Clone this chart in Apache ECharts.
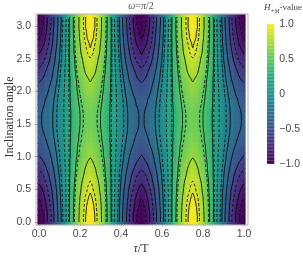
<!DOCTYPE html>
<html><head><meta charset="utf-8">
<script src="https://cdn.jsdelivr.net/npm/echarts@6/dist/echarts.min.js"></script>
<style>html,body{margin:0;padding:0;background:#fff}#c{width:303px;height:261px}</style>
</head><body><div id="c"></div>
<script>
// ---- data ----
const tauMajorTicks = [0, 0.2, 0.4, 0.6, 0.8, 1.0];
const inclMajorTicks = [0, 0.5, 1.0, 1.5, 2.0, 2.5, 3.0];
const colorbarTicks = [-1, -0.5, 0, 0.5, 1];
const tauStep = 0.0125;             // tau sample spacing (0 .. 1)
const inclStep = Math.PI / 40;      // inclination sample spacing (0 .. pi)
// oscillation profile along tau/T (value at inclination 0)
const tauProfile = [
  -1.00,-0.96,-0.91,-0.83,-0.75,-0.65,-0.53,-0.41,-0.28,-0.14,0.00,0.14,0.28,0.41,0.53,0.65,0.75,0.83,0.91,0.96,1.00,
  0.96,0.91,0.83,0.75,0.65,0.53,0.41,0.28,0.14,0.00,-0.14,-0.28,-0.41,-0.53,-0.65,-0.75,-0.83,-0.91,-0.96,-1.00,
  -0.96,-0.91,-0.83,-0.75,-0.65,-0.53,-0.41,-0.28,-0.14,0.00,0.14,0.28,0.41,0.53,0.65,0.75,0.83,0.91,0.96,1.00,
  0.96,0.91,0.83,0.75,0.65,0.53,0.41,0.28,0.14,0.00,-0.14,-0.28,-0.41,-0.53,-0.65,-0.75,-0.83,-0.91,-0.96,-1.00
];
// oscillation amplitude along inclination angle
const inclAmplitude = [
  1.00,1.00,0.99,0.97,0.95,0.92,0.89,0.86,0.82,0.78,0.74,0.70,0.66,0.62,0.59,0.56,0.53,0.51,0.49,0.48,0.48,
  0.48,0.49,0.51,0.53,0.56,0.59,0.62,0.66,0.70,0.74,0.78,0.82,0.86,0.89,0.92,0.95,0.97,0.99,1.00,1.00
];
// constant (memory-like) shift along inclination angle
const inclOffset = [
  0.00,0.00,0.00,0.01,0.01,0.02,0.02,0.03,0.04,0.04,0.05,0.06,0.07,0.07,0.08,0.09,0.09,0.10,0.10,0.10,0.10,
  0.10,0.10,0.10,0.10,0.09,0.09,0.08,0.07,0.07,0.06,0.05,0.04,0.04,0.03,0.02,0.02,0.01,0.01,0.00,0.00
];
const solidLevels = [-0.81, -0.55, -0.36, -0.19, 0.26, 0.46, 0.71, 0.92];
const dashedLevels = [-0.92, -0.68, -0.10, 0.08, 0.22, 0.51, 0.86];
const viridis = ['#440154','#472c7a','#3b518b','#2c718e','#21908d','#27ad81','#5cc863','#aadc32','#fde725'];

// ---- build grid ----
const tauVals = tauProfile.map((_, i) => i * tauStep);
const inclVals = inclAmplitude.map((_, j) => j * inclStep);
const Z = inclVals.map((_, j) => tauProfile.map(g => inclOffset[j] + inclAmplitude[j] * g));
const cells = [];
inclVals.forEach((y, j) => tauVals.forEach((x, i) => cells.push([x, y, Z[j][i]])));

const tauMinorTicks = []; for (let k = 0; k <= 20; k++) tauMinorTicks.push(+(k * 0.05).toFixed(2));
const inclMinorTicks = []; for (let k = 0; k <= 31; k++) inclMinorTicks.push(+(k * 0.1).toFixed(1));
const barSamples = []; for (let k = 0; k <= 100; k++) { const v = -1 + k * 0.02; barSamples.push([0.5, v, v]); }

function contourLines(xs, ys, Z, level) {
  const nx = xs.length, ny = ys.length, pts = {}, adj = {};
  function ep(key, xa, ya, za, xb, yb, zb) {
    if (!(key in pts)) { const t = (level - za) / (zb - za); pts[key] = [xa + t * (xb - xa), ya + t * (yb - ya)]; }
    return key;
  }
  function link(a, b) { (adj[a] = adj[a] || []).push(b); (adj[b] = adj[b] || []).push(a); }
  const table = {1:[['l','b']],2:[['b','r']],3:[['l','r']],4:[['r','t']],6:[['b','t']],7:[['l','t']],8:[['t','l']],9:[['t','b']],11:[['t','r']],12:[['r','l']],13:[['r','b']],14:[['b','l']]};
  for (let j = 0; j < ny - 1; j++) for (let i = 0; i < nx - 1; i++) {
    const z00 = Z[j][i], z10 = Z[j][i+1], z11 = Z[j+1][i+1], z01 = Z[j+1][i];
    const c = (z00 >= level ? 1 : 0) | (z10 >= level ? 2 : 0) | (z11 >= level ? 4 : 0) | (z01 >= level ? 8 : 0);
    if (c === 0 || c === 15) continue;
    const E = {
      b: () => ep('h' + i + '_' + j, xs[i], ys[j], z00, xs[i+1], ys[j], z10),
      r: () => ep('v' + (i+1) + '_' + j, xs[i+1], ys[j], z10, xs[i+1], ys[j+1], z11),
      t: () => ep('h' + i + '_' + (j+1), xs[i], ys[j+1], z01, xs[i+1], ys[j+1], z11),
      l: () => ep('v' + i + '_' + j, xs[i], ys[j], z00, xs[i], ys[j+1], z01)
    };
    let segs;
    if (c === 5 || c === 10) {
      const center = (z00 + z10 + z11 + z01) / 4 >= level;
      if (c === 5) segs = center ? [['l','t'],['b','r']] : [['l','b'],['r','t']];
      else segs = center ? [['b','l'],['t','r']] : [['b','r'],['t','l']];
    } else segs = table[c];
    for (const [a, b] of segs) link(E[a](), E[b]());
  }
  const used = new Set(), lines = [], keys = Object.keys(adj);
  function walk(start) {
    const line = [pts[start]]; used.add(start);
    let cur = start;
    while (true) {
      const nb = adj[cur].filter(k => !used.has(k));
      if (!nb.length) { if (line.length > 2 && adj[cur].includes(start)) line.push(pts[start]); break; }
      cur = nb[0]; used.add(cur); line.push(pts[cur]);
    }
    return line;
  }
  keys.forEach(k => { if (adj[k].length === 1 && !used.has(k)) lines.push(walk(k)); });
  keys.forEach(k => { if (!used.has(k)) lines.push(walk(k)); });
  return lines;
}

const contourSeries = [];
function addContours(levels, dashed) {
  levels.forEach(lv => contourLines(tauVals, inclVals, Z, lv).forEach(line => {
    contourSeries.push({
      type: 'line', xAxisIndex: 0, yAxisIndex: 0, data: line, showSymbol: false, symbol: 'none',
      silent: true, clip: true, z: 5, animation: false, smooth: 0.2,
      lineStyle: { color: 'rgba(0,0,0,0.85)', width: 1, type: dashed ? [3, 2] : 'solid' }
    });
  }));
}
addContours(solidLevels, false);
addContours(dashedLevels, true);

const tickColor = '#8c8c8c';
const labelStyle = { fontSize: 10.5, color: '#4a4a4a', fontFamily: 'Liberation Sans' };
function tickAxis(o) {
  return Object.assign({
    type: 'value', gridIndex: 0, axisLine: { show: false }, splitLine: { show: false },
    axisLabel: { show: false }
  }, o);
}
const fmt1 = v => v.toFixed(1);

const option = {
  animation: false,
  grid: [
    { left: 39, top: 17, width: 205, height: 205 },
    { left: 267, top: 24, width: 10, height: 140 },
    { left: 36, top: 14, width: 212, height: 211, show: true, borderColor: '#b0b0b0', borderWidth: 1, backgroundColor: 'transparent', z: 10 }
  ],
  xAxis: [
    tickAxis({ min: 0, max: 1, position: 'bottom', offset: 3,
      axisTick: { inside: true, length: 4, lineStyle: { color: tickColor }, customValues: tauMajorTicks },
      axisLabel: Object.assign({ show: true, margin: 4, formatter: fmt1, customValues: tauMajorTicks }, labelStyle) }),
    tickAxis({ min: 0, max: 1, position: 'bottom', offset: 3,
      axisTick: { inside: true, length: 2, lineStyle: { color: tickColor }, customValues: tauMinorTicks } }),
    tickAxis({ min: 0, max: 1, position: 'top', offset: 3,
      axisTick: { inside: true, length: 4, lineStyle: { color: tickColor }, customValues: tauMajorTicks } }),
    tickAxis({ min: 0, max: 1, position: 'top', offset: 3,
      axisTick: { inside: true, length: 2, lineStyle: { color: tickColor }, customValues: tauMinorTicks } }),
    { type: 'value', gridIndex: 1, min: 0, max: 1, show: false },
    { type: 'value', gridIndex: 2, min: 0, max: 1, show: false }
  ],
  yAxis: [
    tickAxis({ min: 0, max: Math.PI, position: 'left', offset: 3,
      axisTick: { inside: true, length: 4, lineStyle: { color: tickColor }, customValues: inclMajorTicks },
      axisLabel: Object.assign({ show: true, margin: 5, formatter: fmt1, customValues: inclMajorTicks }, labelStyle) }),
    tickAxis({ min: 0, max: Math.PI, position: 'left', offset: 3,
      axisTick: { inside: true, length: 2, lineStyle: { color: tickColor }, customValues: inclMinorTicks } }),
    tickAxis({ min: 0, max: Math.PI, position: 'right', offset: 4,
      axisTick: { inside: true, length: 4, lineStyle: { color: tickColor }, customValues: inclMajorTicks } }),
    tickAxis({ min: 0, max: Math.PI, position: 'right', offset: 4,
      axisTick: { inside: true, length: 2, lineStyle: { color: tickColor }, customValues: inclMinorTicks } }),
    { type: 'value', gridIndex: 1, min: -1, max: 1, position: 'right',
      axisLine: { show: false }, axisTick: { show: false }, splitLine: { show: false },
      axisLabel: Object.assign({ margin: 5, customValues: colorbarTicks,
        formatter: v => v === 0 ? '0' : (v < 0 ? '\u2212' + Math.abs(v).toFixed(1) : v.toFixed(1)) }, labelStyle) },
    { type: 'value', gridIndex: 2, min: 0, max: 1, show: false }
  ],
  visualMap: {
    type: 'continuous', show: false, min: -1, max: 1, dimension: 2, seriesIndex: [0, 1],
    inRange: { color: viridis }
  },
  series: [
    { type: 'custom', xAxisIndex: 0, yAxisIndex: 0, data: cells, clip: true, silent: true, z: 1,
      renderItem: (params, api) => {
        const x = api.value(0), y = api.value(1);
        const p0 = api.coord([x - tauStep / 2, y + inclStep / 2]);
        const p1 = api.coord([x + tauStep / 2, y - inclStep / 2]);
        return { type: 'rect', shape: { x: p0[0] - 0.3, y: p0[1] - 0.3, width: p1[0] - p0[0] + 0.6, height: p1[1] - p0[1] + 0.6 },
          style: { fill: api.visual('color'), stroke: null } };
      } },
    { type: 'custom', xAxisIndex: 4, yAxisIndex: 4, data: barSamples, clip: true, silent: true,
      renderItem: (params, api) => {
        const v = api.value(1);
        const p0 = api.coord([0, v + 0.011]);
        const p1 = api.coord([1, v - 0.011]);
        return { type: 'rect', shape: { x: p0[0], y: p0[1], width: p1[0] - p0[0], height: p1[1] - p0[1] },
          style: { fill: api.visual('color'), stroke: null } };
      } }
  ].concat(contourSeries),
  graphic: [
    { type: 'text', x: 141, y: 6, silent: true, style: { text: '{i|\u03c9}{r|=}{i|\u03c0}{r|/2}', align: 'center', verticalAlign: 'middle',
      rich: { i: { fontFamily: 'Liberation Serif', fontStyle: 'italic', fontSize: 10, fill: '#555' },
              r: { fontFamily: 'Liberation Serif', fontSize: 10, fill: '#555' } } } },
    { type: 'text', x: 264, y: 8, silent: true, style: { text: '{i|H}{s|+M}{r|-value}', align: 'left', verticalAlign: 'middle',
      rich: { i: { fontFamily: 'Liberation Serif', fontStyle: 'italic', fontSize: 9, lineHeight: 12, fill: '#444' },
              s: { fontFamily: 'Liberation Serif', fontStyle: 'italic', fontSize: 6, lineHeight: 12, verticalAlign: 'bottom', fill: '#444' },
              r: { fontFamily: 'Liberation Serif', fontSize: 9, lineHeight: 12, fill: '#444' } } } },
    { type: 'text', x: 10, y: 117, rotation: Math.PI / 2, silent: true, style: { text: 'Inclination angle', align: 'center', verticalAlign: 'middle',
      font: '12px "Liberation Serif"', fill: '#333' } },
    { type: 'text', x: 141, y: 249, silent: true, style: { text: '{i|\u03c4}{r|/T}', align: 'center', verticalAlign: 'middle',
      rich: { i: { fontFamily: 'Liberation Serif', fontStyle: 'italic', fontSize: 12, fill: '#333' },
              r: { fontFamily: 'Liberation Serif', fontSize: 12, fill: '#333' } } } }
  ]
};
const chart = echarts.init(document.getElementById('c'), null, { renderer: 'canvas' });
chart.setOption(option);
</script></body></html>
